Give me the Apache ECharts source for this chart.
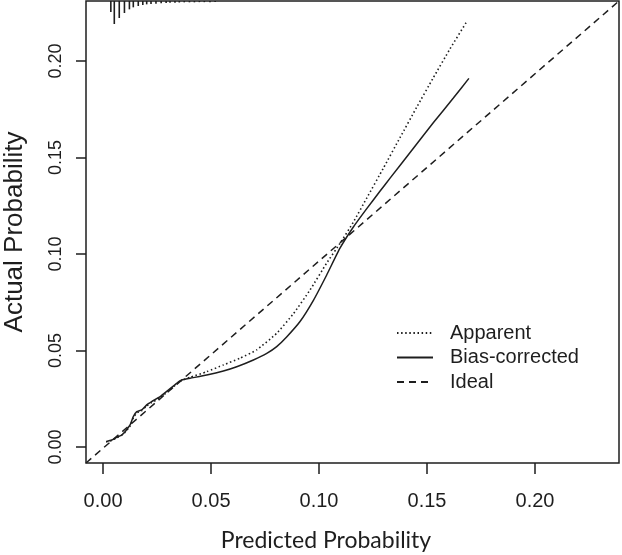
<!DOCTYPE html>
<html>
<head>
<meta charset="utf-8">
<script src="https://cdn.jsdelivr.net/npm/echarts@6/dist/echarts.min.js"></script>
<style>html,body{margin:0;padding:0;background:#fff;}#c{width:622px;height:555px;}</style>
</head>
<body>
<div id="c"></div>
<script>
// ---- data ----
var xTicks = [0, 0.05, 0.10, 0.15, 0.20];
var yTicks = [0, 0.05, 0.10, 0.15, 0.20];

var apparentX = [0.0014,0.0040,0.0063,0.0086,0.0102,0.0125,0.0140,0.0156,0.0179,0.0202,0.0225,0.0264,0.0302,0.0341,0.0364,0.0403,0.0480,0.0557,0.0634,0.0711,0.0804,0.0881,0.0958,0.1035,0.1097,0.1159,0.1221,0.1298,0.1375,0.1452,0.1529,0.1606,0.1684];
var apparentY = [0.0027,0.0034,0.0048,0.0060,0.0076,0.0108,0.0150,0.0176,0.0188,0.0213,0.0230,0.0255,0.0290,0.0326,0.0345,0.0361,0.0390,0.0425,0.0460,0.0503,0.0589,0.0690,0.0813,0.0952,0.1055,0.1165,0.1290,0.1445,0.1603,0.1760,0.1913,0.2062,0.2204];

var biasX = [0.0014,0.0040,0.0063,0.0086,0.0102,0.0125,0.0140,0.0156,0.0179,0.0202,0.0225,0.0264,0.0302,0.0341,0.0364,0.0403,0.0480,0.0557,0.0619,0.0696,0.0758,0.0804,0.0850,0.0912,0.0974,0.1035,0.1097,0.1159,0.1221,0.1282,0.1329,0.1437,0.1529,0.1622,0.1694];
var biasY = [0.0027,0.0036,0.0050,0.0062,0.0079,0.0114,0.0157,0.0183,0.0192,0.0218,0.0235,0.0261,0.0295,0.0330,0.0347,0.0356,0.0373,0.0394,0.0416,0.0451,0.0485,0.0520,0.0570,0.0650,0.0760,0.0890,0.1030,0.1140,0.1235,0.1325,0.1393,0.1548,0.1680,0.1808,0.1910];

var idealX = [-0.0079, 0.2389];
var idealY = [-0.0083, 0.2311];

// distribution of predicted probabilities (rug spikes at top), relative frequency
var rugX = [0.0036,0.0052,0.0075,0.0099,0.0122,0.0140,0.0163,0.0184,0.0202,0.0222,0.0245,0.0269,0.0292,0.0310,0.0333,0.0353,0.0376,0.0400,0.0423,0.0446,0.0469,0.0495,0.0519];
var rugFreq = [33,69,51,36,25,19,15,12,10,9,8,7,6,5.5,5,4.5,4,4,4,3.5,3.5,3.5,3];

var seriesNames = ['Apparent', 'Bias-corrected', 'Ideal'];

function zip(a, b) { return a.map(function (v, i) { return [v, b[i]]; }); }

var ink = '#1e1e1e';
var chart = echarts.init(document.getElementById('c'), null, {renderer: 'canvas'});
chart.setOption({
  animation: false,
  backgroundColor: '#fff',
  grid: {left: 86, right: 3, top: 1, bottom: 92, show: true, borderColor: ink, borderWidth: 1.5,
    backgroundColor: 'transparent', containLabel: false, outerBoundsMode: 'none'},
  legend: {
    orient: 'vertical', left: 396, top: 323, padding: 0,
    itemWidth: 36, itemHeight: 14, itemGap: 4.5,
    data: seriesNames,
    itemStyle: {opacity: 0, borderWidth: 0},
    textStyle: {fontFamily: 'Liberation Sans, Arial, sans-serif', fontSize: 20, color: ink, padding: [0, 0, 0, 12], lineHeight: 20}
  },
  xAxis: {
    type: 'value', min: -0.0079, max: 0.2389,
    name: 'Predicted Probability', nameLocation: 'middle', nameGap: 66,
    nameTextStyle: {fontFamily: 'Lato, Open Sans, sans-serif', fontSize: 23, color: ink, padding: [0, 53, 0, 0]},
    axisLine: {show: false, onZero: false},
    axisTick: {show: true, length: 11, lineStyle: {color: ink, width: 1.5}, customValues: xTicks},
    axisLabel: {customValues: xTicks, margin: 28, fontFamily: 'Liberation Sans, Arial, sans-serif', fontSize: 20, color: ink,
      formatter: function (v) { return v.toFixed(2); }},
    splitLine: {show: false}
  },
  yAxis: [{
    type: 'value', min: -0.0083, max: 0.2311,
    name: 'Actual Probability', nameLocation: 'middle', nameGap: 58,
    nameTextStyle: {fontFamily: 'Liberation Sans, Arial, sans-serif', fontSize: 26, color: ink},
    axisLine: {show: false, onZero: false},
    axisTick: {show: true, length: 10, lineStyle: {color: ink, width: 1.5}, customValues: yTicks},
    axisLabel: {customValues: yTicks, rotate: 90, margin: 21, fontFamily: 'Liberation Sans Narrow, Liberation Sans, Arial, sans-serif', fontSize: 18, color: ink,
      formatter: function (v) { return v.toFixed(2); }},
    splitLine: {show: false}
  }, {
    type: 'value', min: 0, max: 1386, inverse: true, show: false
  }],
  series: [{
    name: 'Apparent', type: 'line', data: zip(apparentX, apparentY), symbol: 'none', showSymbol: false, smooth: 0.15,
    lineStyle: {color: ink, width: 1.6, type: [1.5, 2.6]}, itemStyle: {color: ink}
  }, {
    name: 'Bias-corrected', type: 'line', data: zip(biasX, biasY), symbol: 'none', showSymbol: false, smooth: 0.15,
    lineStyle: {color: ink, width: 1.5, type: 'solid'}, itemStyle: {color: ink}
  }, {
    name: 'Ideal', type: 'line', data: zip(idealX, idealY), symbol: 'none', showSymbol: false,
    lineStyle: {color: ink, width: 1.5, type: [7, 5]}, itemStyle: {color: ink}
  }, {
    name: 'rug', type: 'bar', yAxisIndex: 1, data: zip(rugX, rugFreq), barWidth: 1.6,
    itemStyle: {color: ink}, silent: true
  }]
});
</script>
</body>
</html>
